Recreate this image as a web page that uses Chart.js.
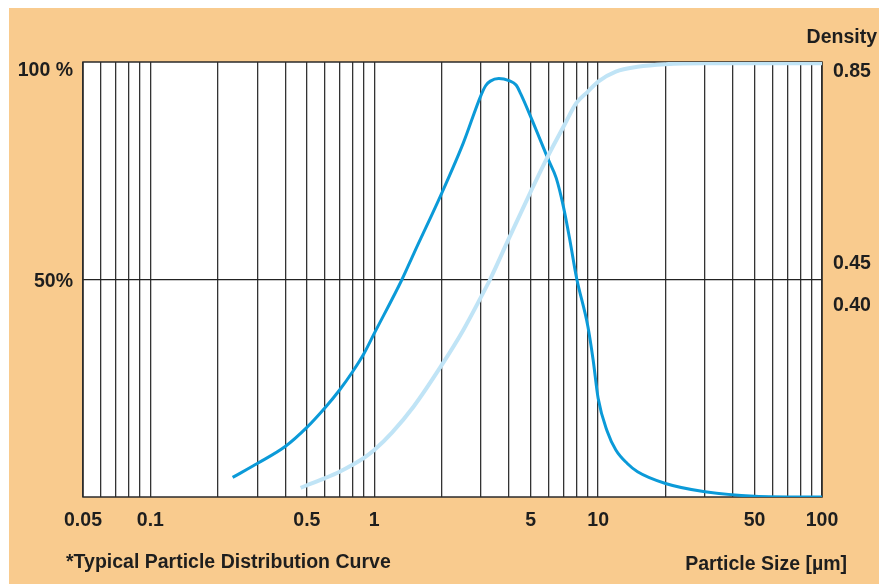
<!DOCTYPE html>
<html lang="en">

<head>
    <meta charset="UTF-8">
    <title>Typical Particle Distribution Curve</title>
    <script src="https://cdn.jsdelivr.net/npm/chart.js"></script>
    <style>
        body {
            margin: 0;
            background: #ffffff;
        }

        #wrap {
            position: absolute;
            left: 9px;
            top: 8px;
            width: 870px;
            height: 576px;
            background: #f9cb8e;
        }
    </style>
</head>

<body>
    <div id="wrap">
        <canvas id="psd" width="870" height="576"></canvas>
    </div>

    <script>
        // particle size axis (µm)
        const gridSizes = [0.05, 0.06, 0.07, 0.08, 0.09, 0.1, 0.2, 0.3, 0.4, 0.5, 0.6, 0.7, 0.8, 0.9,
            1, 2, 3, 4, 5, 6, 7, 8, 9, 10, 20, 30, 40, 50, 60, 70, 80, 90, 100];
        const sizeLabels = [0.05, 0.1, 0.5, 1, 5, 10, 50, 100];

        // left axis (%) and right axis (density) labels
        const pctTickValues = [98, 49.5];
        const pctTickLabels = ['100 %', '50%'];
        const densityTickValues = [97.7, 53.6, 43.9];
        const densityTickLabels = ['0.85', '0.45', '0.40'];

        // distribution curve (dark blue)
        const distSize = [0.233, 0.3, 0.4, 0.5, 0.6, 0.7, 0.8, 0.9, 1, 1.33, 1.5, 2, 2.5, 3, 3.15, 3.3, 3.6, 4, 4.3, 4.5,
            5, 6, 6.5, 7, 7.5, 8, 9, 9.5, 10, 11, 12, 13.5, 15, 20, 30, 50, 100];
        const distPct = [4.5, 7.7, 11.6, 16.0, 20.4, 24.6, 28.8, 33.0, 37.6, 50, 55.9, 69.8, 81.4, 92.4, 94.6, 95.6, 96.2, 95.7, 94.7, 92.8,
            87.4, 77.5, 73.3, 66.7, 58.7, 50.5, 39.2, 31.5, 22.7, 15.0, 10.8, 7.7, 5.8, 3.1, 1.2, 0.2, 0];

        // cumulative curve (light blue)
        const cumSize = [0.469, 0.5, 0.6, 0.7, 0.8, 0.9, 1, 1.2, 1.5, 2, 2.5, 3, 3.29, 4, 5, 6, 7, 8, 9, 10, 12, 15, 20, 30, 100];
        const cumPct = [2.1, 2.7, 4.3, 5.8, 7.4, 9.0, 10.8, 14.8, 20.8, 30.3, 38.4, 46.0, 50, 59.5, 70.2, 78.6, 85.1, 90.6, 93.2,
            95.5, 97.8, 98.9, 99.5, 99.7, 99.7];

        const fontFam = "'Liberation Sans', Arial, sans-serif";
        const textColor = '#1e1e1e';
        const labelFont = { family: fontFam, size: 19.5, weight: 'bold' };

        const toPoints = (xs, ys) => xs.map((x, i) => ({ x: x, y: ys[i] }));

        const fixedTicks = values => scale => {
            scale.ticks = values.map(v => ({ value: v }));
        };

        const framePlugin = {
            id: 'frame',
            beforeDraw(chart) {
                const a = chart.chartArea;
                chart.ctx.save();
                chart.ctx.fillStyle = '#ffffff';
                chart.ctx.fillRect(a.left, a.top, a.right - a.left, a.bottom - a.top);
                chart.ctx.restore();
            },
            beforeDatasetsDraw(chart) {
                const a = chart.chartArea;
                const ctx = chart.ctx;
                ctx.save();
                ctx.strokeStyle = '#2b2b2b';
                ctx.lineWidth = 1.5;
                ctx.strokeRect(a.left, a.top, a.right - a.left, a.bottom - a.top);
                ctx.restore();
            },
            afterDraw(chart) {
                const ctx = chart.ctx;
                ctx.save();
                ctx.fillStyle = textColor;
                ctx.font = 'bold 19.5px ' + fontFam;
                ctx.textBaseline = 'middle';
                ctx.textAlign = 'right';
                ctx.fillText('Density', 868, 30);
                ctx.fillText('Particle Size [µm]', 838, 557);
                ctx.textAlign = 'left';
                ctx.fillText('*Typical Particle Distribution Curve', 57, 555);
                ctx.restore();
            }
        };

        new Chart(document.getElementById('psd'), {
            type: 'line',
            data: {
                datasets: [{
                    label: 'Cumulative',
                    data: toPoints(cumSize, cumPct),
                    borderColor: '#c0e4f6',
                    borderWidth: 4,
                    pointRadius: 0,
                    cubicInterpolationMode: 'monotone',
                    yAxisID: 'y'
                }, {
                    label: 'Distribution',
                    data: toPoints(distSize, distPct),
                    borderColor: '#0b9ad8',
                    borderWidth: 3,
                    pointRadius: 0,
                    cubicInterpolationMode: 'monotone',
                    yAxisID: 'y'
                }]
            },
            options: {
                responsive: false,
                animation: false,
                layout: { padding: { top: 54, left: 0, right: 0, bottom: 0 } },
                plugins: {
                    legend: { display: false },
                    tooltip: { enabled: false }
                },
                scales: {
                    x: {
                        type: 'logarithmic',
                        min: 0.05,
                        max: 100,
                        afterBuildTicks: fixedTicks(gridSizes),
                        afterFit: s => { s.height = 87; },
                        border: { display: false },
                        grid: { color: '#333333', lineWidth: 1.3, drawTicks: false },
                        ticks: {
                            autoSkip: false,
                            maxRotation: 0,
                            padding: 12,
                            color: textColor,
                            font: labelFont,
                            callback: v => sizeLabels.includes(v) ? String(v) : ''
                        }
                    },
                    y: {
                        position: 'left',
                        min: 0,
                        max: 100,
                        afterBuildTicks: fixedTicks([50]),
                        afterFit: s => { s.width = 0; },
                        border: { display: false },
                        grid: { color: '#222222', lineWidth: 1.3, drawTicks: false },
                        ticks: { display: false }
                    },
                    yPct: {
                        position: 'left',
                        min: 0,
                        max: 100,
                        afterBuildTicks: fixedTicks(pctTickValues),
                        afterFit: s => { s.width = 74; },
                        border: { display: false },
                        grid: { display: false, drawTicks: false },
                        ticks: {
                            padding: 10,
                            color: textColor,
                            font: labelFont,
                            callback: (v, i) => pctTickLabels[i]
                        }
                    },
                    yDen: {
                        position: 'right',
                        min: 0,
                        max: 100,
                        afterBuildTicks: fixedTicks(densityTickValues),
                        afterFit: s => { s.width = 57; },
                        border: { display: false },
                        grid: { display: false, drawTicks: false },
                        ticks: {
                            padding: 11,
                            color: textColor,
                            font: labelFont,
                            callback: (v, i) => densityTickLabels[i]
                        }
                    }
                }
            },
            plugins: [framePlugin]
        });
    </script>
</body>

</html>
